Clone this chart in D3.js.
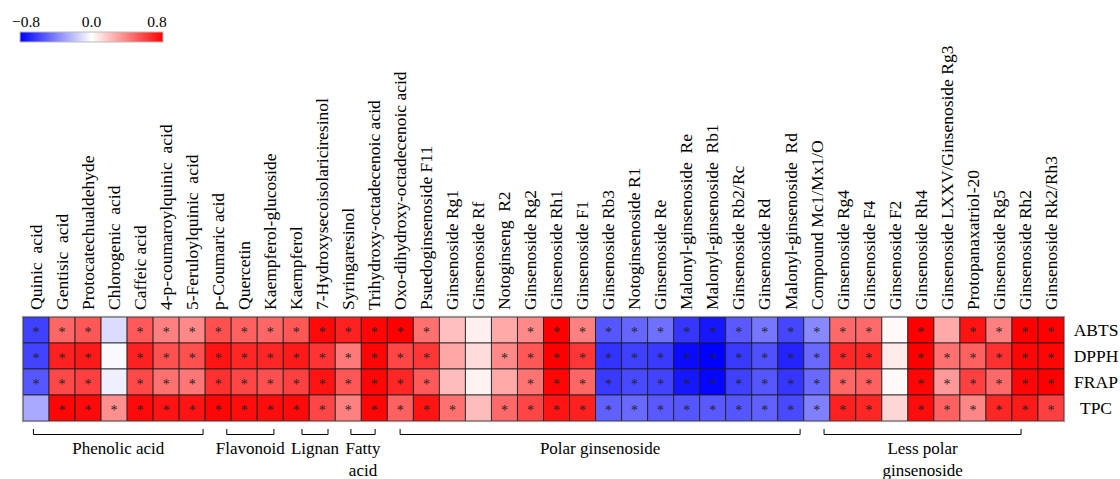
<!DOCTYPE html>
<html>
<head>
<meta charset="utf-8">
<script src="https://cdn.jsdelivr.net/npm/d3@7"></script>
<style>
  body { margin: 0; background: #fff; }
  text { font-family: "Liberation Serif", "Times New Roman", serif; }
</style>
</head>
<body>
<svg id="chart" width="1120" height="479"></svg>
<script>
// compounds (columns) and assays (rows)
var columns = ["Quinic  acid", "Gentisic  acid", "Protocatechualdehyde", "Chlorogenic  acid", "Caffeic acid",
  "4-p-coumaroylquinic  acid", "5-Feruloylquinic  acid", "p-Coumaric acid", "Quercetin", "Kaempferol-glucoside",
  "Kaempferol", "7-Hydroxysecoisolariciresinol", "Syringaresinol", "Trihydroxy-octadecenoic acid",
  "Oxo-dihydroxy-octadecenoic acid", "Psuedoginsenoside F11", "Ginsenoside Rg1", "Ginsenoside Rf",
  "Notoginseng  R2", "Ginsenoside Rg2", "Ginsenoside Rh1", "Ginsenoside F1", "Ginsenoside Rb3",
  "Notoginsenoside R1", "Ginsenoside Re", "Malonyl-ginsenoside  Re", "Malonyl-ginsenoside  Rb1",
  "Ginsenoside Rb2/Rc", "Ginsenoside Rd", "Malonyl-ginsenoside  Rd", "Compound Mc1/Mx1/O",
  "Ginsenoside Rg4", "Ginsenoside F4", "Ginsenoside F2", "Ginsenoside Rh4", "Ginsenoside LXXV/Ginsenoside Rg3",
  "Protopanaxatriol-20", "Ginsenoside Rg5", "Ginsenoside Rh2", "Ginsenoside Rk2/Rh3"];
var rows = ["ABTS", "DPPH", "FRAP", "TPC"];

// correlation values, one array per assay
var abts = [-0.6, 0.48, 0.53, -0.11, 0.52, 0.4, 0.37, 0.55, 0.5, 0.48, 0.53, 0.77, 0.7, 0.78, 0.8, 0.45, 0.2, 0.05, 0.27, 0.37,
  0.8, 0.4, -0.53, -0.48, -0.45, -0.63, -0.73, -0.52, -0.43, -0.58, -0.37, 0.47, 0.47, 0.02, 0.8, 0.27, 0.74, 0.4, 0.8, 0.8];
var dpph = [-0.59, 0.7, 0.72, -0.02, 0.7, 0.55, 0.55, 0.74, 0.68, 0.68, 0.72, 0.64, 0.42, 0.78, 0.58, 0.63, 0.28, 0.11, 0.37, 0.53,
  0.8, 0.63, -0.64, -0.6, -0.62, -0.77, -0.8, -0.62, -0.55, -0.69, -0.47, 0.67, 0.68, 0.07, 0.8, 0.45, 0.5, 0.65, 0.78, 0.78];
var frap = [-0.53, 0.57, 0.6, -0.05, 0.57, 0.45, 0.43, 0.65, 0.58, 0.55, 0.6, 0.74, 0.53, 0.78, 0.68, 0.52, 0.21, 0.04, 0.27, 0.44,
  0.78, 0.48, -0.62, -0.57, -0.59, -0.73, -0.78, -0.6, -0.53, -0.63, -0.47, 0.48, 0.5, 0.02, 0.78, 0.32, 0.6, 0.47, 0.78, 0.8];
var tpc = [-0.27, 0.78, 0.77, 0.35, 0.77, 0.74, 0.74, 0.78, 0.76, 0.76, 0.77, 0.58, 0.4, 0.78, 0.5, 0.74, 0.45, 0.21, 0.47, 0.58,
  0.74, 0.7, -0.5, -0.47, -0.52, -0.53, -0.52, -0.53, -0.5, -0.57, -0.4, 0.7, 0.68, 0.13, 0.76, 0.5, 0.38, 0.68, 0.72, 0.6];

// significance (1 = asterisk)
var abtsSig = [1,1,1,0,1,1,1,1,1,1,1,1,1,1,1,1,0,0,0,1,1,1,1,1,1,1,1,1,1,1,1,1,1,0,1,0,1,1,1,1];
var dpphSig = [1,1,1,0,1,1,1,1,1,1,1,1,1,1,1,1,0,0,1,1,1,1,1,1,1,1,1,1,1,1,1,1,1,0,1,1,1,1,1,1];
var frapSig = [1,1,1,0,1,1,1,1,1,1,1,1,1,1,1,1,0,0,0,1,1,1,1,1,1,1,1,1,1,1,1,1,1,0,1,1,1,1,1,1];
var tpcSig  = [0,1,1,1,1,1,1,1,1,1,1,1,1,1,1,1,1,0,1,1,1,1,1,1,1,1,1,1,1,1,1,1,1,0,1,1,1,1,1,1];

// compound classes, bracket spans in column units
var groupNames = [["Phenolic acid"], ["Flavonoid"], ["Lignan"], ["Fatty", "acid"], ["Polar ginsenoside"], ["Less polar", "ginsenoside"]];
var groupStart = [0.4, 7.83, 10.72, 12.6, 14.49, 30.78];
var groupEnd = [6.92, 9.64, 11.72, 13.53, 29.86, 38.35];

var legendTicks = [-0.8, 0, 0.8];

var svg = d3.select("#chart");
var values = [abts, dpph, frap, tpc];
var sigs = [abtsSig, dpphSig, frapSig, tpcSig];

var gridLeft = 23, gridRight = 1064, gridTop = 317, gridBottom = 421;

var x = d3.scaleBand().domain(columns).range([gridLeft, gridRight]);
var y = d3.scaleBand().domain(rows).range([gridTop, gridBottom]);
var xu = d3.scaleLinear().domain([0, columns.length]).range([gridLeft, gridRight]);

var color = d3.scaleLinear()
  .domain([-0.8, 0, 0.8])
  .range(["#0000ff", "#ffffff", "#ff0000"])
  .clamp(true);

// flatten to cells
var cells = [];
rows.forEach(function(r, i) {
  columns.forEach(function(c, j) {
    cells.push({ row: r, col: c, v: values[i][j], sig: sigs[i][j] });
  });
});

// heatmap cells
svg.append("g").selectAll("rect")
  .data(cells)
  .enter().append("rect")
  .attr("x", function(d) { return x(d.col); })
  .attr("y", function(d) { return y(d.row); })
  .attr("width", x.bandwidth())
  .attr("height", y.bandwidth())
  .attr("fill", function(d) { return color(d.v); })
  .attr("stroke", "#1a1a1a")
  .attr("stroke-opacity", 0.8)
  .attr("stroke-width", 1);

// outer frame
svg.append("rect")
  .attr("x", gridLeft - 0.5)
  .attr("y", gridTop - 0.5)
  .attr("width", gridRight - gridLeft + 1)
  .attr("height", gridBottom - gridTop + 1)
  .attr("fill", "none")
  .attr("stroke", "#999")
  .attr("stroke-width", 1.2);

// asterisks
svg.append("g").selectAll("text")
  .data(cells.filter(function(d) { return d.sig; }))
  .enter().append("text")
  .attr("x", function(d) { return x(d.col) + x.bandwidth() / 2; })
  .attr("y", function(d) { return y(d.row) + y.bandwidth() / 2; })
  .attr("dy", "0.5em")
  .attr("text-anchor", "middle")
  .style("font-size", "14px")
  .style("fill", "#222")
  .text("*");

// column labels
svg.append("g").selectAll("text")
  .data(columns)
  .enter().append("text")
  .attr("transform", function(d) { return "translate(" + (x(d) + x.bandwidth() / 2) + ",310)rotate(-90)"; })
  .attr("dy", "0.33em")
  .style("font-size", "17.5px")
  .style("white-space", "pre")
  .text(function(d) { return d; });

// row labels
svg.append("g").selectAll("text")
  .data(rows)
  .enter().append("text")
  .attr("x", 1096)
  .attr("y", function(d) { return y(d) + y.bandwidth() / 2; })
  .attr("dy", "0.35em")
  .attr("text-anchor", "middle")
  .style("font-size", "17.5px")
  .text(function(d) { return d; });

// group brackets
var g = svg.append("g");
groupNames.forEach(function(name, i) {
  var x0 = xu(groupStart[i]), x1 = xu(groupEnd[i]);
  g.append("path")
    .attr("d", "M" + x0 + ",429V434.5H" + x1 + "V429")
    .attr("fill", "none")
    .attr("stroke", "#000")
    .attr("stroke-width", 1);
  var t = g.append("text")
    .attr("x", (x0 + x1) / 2)
    .attr("y", 454)
    .attr("text-anchor", "middle")
    .style("font-size", "17px");
  name.forEach(function(line, k) {
    t.append("tspan")
      .attr("x", (x0 + x1) / 2)
      .attr("dy", k == 0 ? 0 : 21.5)
      .text(line);
  });
});

// colour legend
var defs = svg.append("defs");
var grad = defs.append("linearGradient").attr("id", "legendGrad");
[-0.8, -0.4, 0, 0.4, 0.8].forEach(function(v) {
  grad.append("stop")
    .attr("offset", ((v + 0.8) / 1.6 * 100) + "%")
    .attr("stop-color", color(v));
});
svg.append("rect")
  .attr("x", 20)
  .attr("y", 32)
  .attr("width", 143)
  .attr("height", 10)
  .attr("fill", "url(#legendGrad)")
  .attr("stroke", "#bbb")
  .attr("stroke-width", 1);

var lx = d3.scaleLinear().domain([-0.8, 0.8]).range([26, 157]);
svg.append("g").selectAll("text")
  .data(legendTicks)
  .enter().append("text")
  .attr("x", function(d) { return lx(d); })
  .attr("y", 27)
  .attr("text-anchor", "middle")
  .style("font-size", "15.5px")
  .text(function(d) { return d == 0 ? "0.0" : (d < 0 ? "\u22120.8" : "0.8"); });
</script>
</body>
</html>
